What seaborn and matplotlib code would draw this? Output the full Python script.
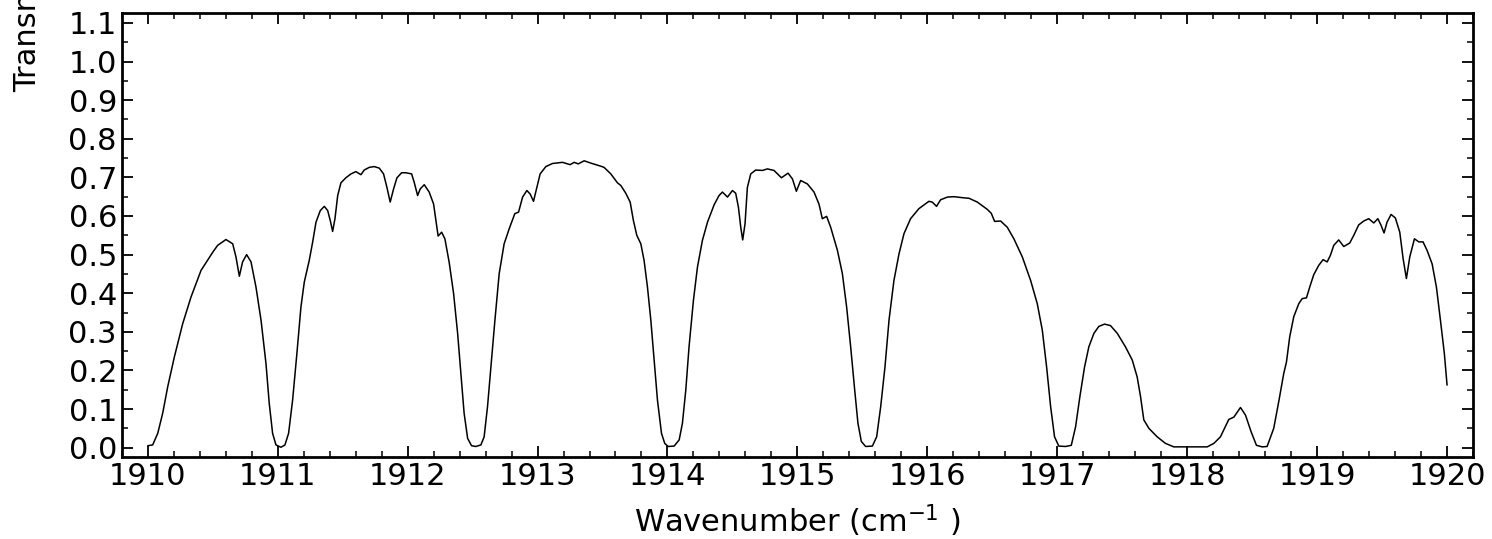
import matplotlib
matplotlib.use("Agg")
import matplotlib.pyplot as plt
from matplotlib.ticker import MultipleLocator, FormatStrFormatter
import pandas as pd
import seaborn as sns

# Measured transmission spectrum (wavenumber in cm^-1, transmittance 0..1)
wavenumber = [
    1910.000, 1910.038, 1910.077, 1910.115, 1910.154, 1910.205, 1910.269, 1910.333,
    1910.410, 1910.500, 1910.538, 1910.602, 1910.654, 1910.679, 1910.705, 1910.730,
    1910.761, 1910.795, 1910.833, 1910.872, 1910.910, 1910.935, 1910.961, 1910.987,
    1911.025, 1911.056, 1911.084, 1911.115, 1911.148, 1911.179, 1911.205, 1911.243,
    1911.269, 1911.295, 1911.328, 1911.359, 1911.385, 1911.405, 1911.423, 1911.441,
    1911.462, 1911.487, 1911.525, 1911.564, 1911.602, 1911.641, 1911.666, 1911.705,
    1911.743, 1911.782, 1911.815, 1911.841, 1911.866, 1911.892, 1911.918, 1911.954,
    1911.987, 1912.031, 1912.051, 1912.077, 1912.097, 1912.128, 1912.166, 1912.200,
    1912.218, 1912.235, 1912.262, 1912.287, 1912.320, 1912.354, 1912.385, 1912.410,
    1912.435, 1912.462, 1912.492, 1912.525, 1912.564, 1912.589, 1912.615, 1912.641,
    1912.672, 1912.705, 1912.743, 1912.782, 1912.825, 1912.854, 1912.885, 1912.918,
    1912.943, 1912.969, 1912.995, 1913.020, 1913.064, 1913.115, 1913.192, 1913.251,
    1913.282, 1913.313, 1913.359, 1913.410, 1913.487, 1913.512, 1913.564, 1913.615,
    1913.641, 1913.679, 1913.713, 1913.738, 1913.764, 1913.795, 1913.820, 1913.846,
    1913.872, 1913.897, 1913.923, 1913.954, 1913.979, 1914.005, 1914.051, 1914.090,
    1914.115, 1914.141, 1914.166, 1914.200, 1914.231, 1914.269, 1914.308, 1914.359,
    1914.397, 1914.423, 1914.462, 1914.500, 1914.525, 1914.546, 1914.564, 1914.579,
    1914.597, 1914.615, 1914.641, 1914.679, 1914.731, 1914.769, 1914.820, 1914.877,
    1914.928, 1914.962, 1914.992, 1915.025, 1915.077, 1915.128, 1915.166, 1915.192,
    1915.225, 1915.256, 1915.308, 1915.346, 1915.379, 1915.410, 1915.441, 1915.466,
    1915.492, 1915.525, 1915.577, 1915.610, 1915.641, 1915.674, 1915.705, 1915.743,
    1915.782, 1915.820, 1915.871, 1915.935, 1916.012, 1916.038, 1916.071, 1916.102,
    1916.154, 1916.205, 1916.282, 1916.320, 1916.385, 1916.462, 1916.492, 1916.518,
    1916.564, 1916.615, 1916.666, 1916.731, 1916.795, 1916.846, 1916.885, 1916.918,
    1916.949, 1916.979, 1917.012, 1917.064, 1917.108, 1917.141, 1917.174, 1917.210,
    1917.243, 1917.282, 1917.320, 1917.364, 1917.410, 1917.462, 1917.525, 1917.577,
    1917.615, 1917.641, 1917.666, 1917.705, 1917.769, 1917.833, 1917.897, 1918.000,
    1918.154, 1918.205, 1918.256, 1918.320, 1918.359, 1918.410, 1918.449, 1918.492,
    1918.533, 1918.577, 1918.615, 1918.666, 1918.705, 1918.743, 1918.764, 1918.789,
    1918.820, 1918.859, 1918.885, 1918.918, 1918.943, 1918.974, 1919.012, 1919.046,
    1919.077, 1919.102, 1919.128, 1919.166, 1919.205, 1919.251, 1919.282, 1919.320,
    1919.359, 1919.397, 1919.436, 1919.467, 1919.492, 1919.515, 1919.538, 1919.569,
    1919.602, 1919.636, 1919.662, 1919.687, 1919.713, 1919.749, 1919.782, 1919.815,
    1919.846, 1919.885, 1919.918, 1919.949, 1919.979, 1920.000,
]

transmittance = [
    0.005, 0.007, 0.037, 0.089, 0.158, 0.235, 0.321, 0.390,
    0.459, 0.506, 0.524, 0.539, 0.528, 0.494, 0.444, 0.481,
    0.500, 0.481, 0.416, 0.330, 0.218, 0.115, 0.037, 0.007,
    0.001, 0.007, 0.037, 0.123, 0.244, 0.364, 0.429, 0.485,
    0.532, 0.584, 0.614, 0.625, 0.614, 0.588, 0.560, 0.593,
    0.653, 0.686, 0.699, 0.709, 0.715, 0.707, 0.719, 0.726,
    0.728, 0.724, 0.709, 0.674, 0.636, 0.670, 0.699, 0.712,
    0.712, 0.709, 0.687, 0.653, 0.670, 0.681, 0.662, 0.631,
    0.588, 0.548, 0.558, 0.541, 0.480, 0.399, 0.296, 0.192,
    0.089, 0.024, 0.005, 0.003, 0.007, 0.028, 0.106, 0.209,
    0.330, 0.451, 0.528, 0.567, 0.606, 0.610, 0.649, 0.666,
    0.657, 0.638, 0.674, 0.709, 0.728, 0.736, 0.739, 0.733,
    0.739, 0.735, 0.743, 0.737, 0.729, 0.726, 0.709, 0.686,
    0.679, 0.659, 0.636, 0.588, 0.550, 0.528, 0.485, 0.416,
    0.330, 0.227, 0.123, 0.037, 0.011, 0.003, 0.004, 0.020,
    0.063, 0.149, 0.261, 0.382, 0.468, 0.537, 0.584, 0.629,
    0.653, 0.662, 0.649, 0.666, 0.659, 0.623, 0.571, 0.538,
    0.580, 0.674, 0.709, 0.719, 0.718, 0.722, 0.718, 0.699,
    0.711, 0.696, 0.664, 0.692, 0.683, 0.662, 0.631, 0.593,
    0.599, 0.571, 0.511, 0.451, 0.364, 0.261, 0.149, 0.063,
    0.016, 0.003, 0.004, 0.028, 0.106, 0.209, 0.330, 0.433,
    0.502, 0.554, 0.593, 0.619, 0.638, 0.636, 0.625, 0.642,
    0.649, 0.650, 0.647, 0.646, 0.636, 0.617, 0.607, 0.586,
    0.587, 0.571, 0.541, 0.494, 0.433, 0.373, 0.304, 0.209,
    0.106, 0.028, 0.004, 0.003, 0.006, 0.054, 0.132, 0.209,
    0.261, 0.296, 0.314, 0.320, 0.316, 0.296, 0.261, 0.227,
    0.183, 0.132, 0.072, 0.050, 0.028, 0.011, 0.002, 0.002,
    0.002, 0.011, 0.028, 0.073, 0.079, 0.104, 0.084, 0.041,
    0.006, 0.002, 0.003, 0.050, 0.120, 0.192, 0.222, 0.287,
    0.339, 0.373, 0.386, 0.388, 0.416, 0.448, 0.472, 0.487,
    0.481, 0.498, 0.524, 0.538, 0.521, 0.530, 0.550, 0.577,
    0.587, 0.593, 0.582, 0.593, 0.576, 0.556, 0.584, 0.604,
    0.595, 0.558, 0.489, 0.438, 0.494, 0.541, 0.533, 0.533,
    0.511, 0.476, 0.416, 0.330, 0.244, 0.162,
]

x_label = "Wavenumber (cm$^{-1}$ )"
y_label = "Transmittance"

sns.set_theme(style="ticks")
plt.rcParams["font.family"] = ["DejaVu Sans"]
plt.rcParams["mathtext.fontset"] = "dejavusans"
plt.rcParams["text.color"] = "black"
plt.rcParams["axes.labelcolor"] = "black"
plt.rcParams["xtick.color"] = "black"
plt.rcParams["ytick.color"] = "black"

df = pd.DataFrame({"wavenumber": wavenumber, "transmittance": transmittance})

fig = plt.figure(figsize=(14.92, 5.39), dpi=100)
ax = fig.add_axes([0.0816, 0.1516, 0.9057, 0.8237])

sns.lineplot(data=df, x="wavenumber", y="transmittance", ax=ax,
             color="black", linewidth=1.1, sort=False, estimator=None)

ax.set_xlim(1909.8, 1920.2)
ax.set_ylim(-0.025, 1.125)
ax.xaxis.set_major_locator(MultipleLocator(1))
ax.xaxis.set_minor_locator(MultipleLocator(0.2))
ax.yaxis.set_major_locator(MultipleLocator(0.1))
ax.yaxis.set_minor_locator(MultipleLocator(0.05))
ax.yaxis.set_major_formatter(FormatStrFormatter("%.1f"))

ax.tick_params(which="both", direction="in", top=True, right=True,
               labelsize=22, colors="black", labelcolor="black")
ax.tick_params(which="major", length=8, width=1.3)
ax.tick_params(which="minor", length=4, width=1.1)
for spine in ax.spines.values():
    spine.set_linewidth(2.0)
    spine.set_color("black")

ax.set_xlabel(x_label, fontsize=22, color="black", labelpad=8)
ax.set_ylabel(y_label, fontsize=22, color="black")
# long axis title starts near the top left and runs past the figure edge
ax.yaxis.set_label_coords(-0.0592, 1.066)

fig.savefig("out.png", dpi=100)
